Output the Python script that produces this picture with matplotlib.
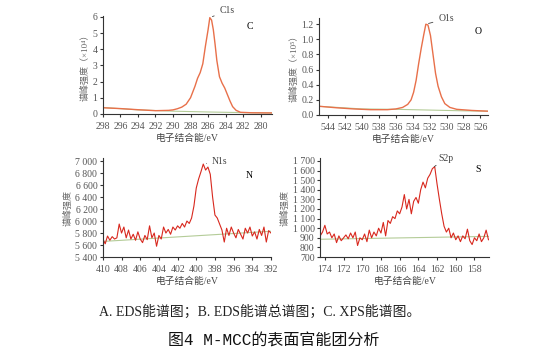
import matplotlib.pyplot as plt
from matplotlib.ticker import FuncFormatter
import numpy as np

plt.rcParams['font.family'] = ['Liberation Serif', 'Noto Sans CJK SC']

# C 1s
c_x = [298, 296, 294, 292, 290.5, 290, 289.5, 289, 288.5, 288, 287.5, 287.2, 286.9, 286.6,
       286.3, 286.0, 285.8, 285.6, 285.4, 285.2, 285.0, 284.7, 284.4, 284.1, 283.8, 283.5,
       283.2, 282.8, 282.3, 281, 278.7]
c_y = [0.38, 0.33, 0.26, 0.2, 0.22, 0.25, 0.32, 0.42, 0.6, 1.0, 1.7, 2.2, 2.55, 3.1,
       4.2, 5.2, 5.95, 5.8, 5.2, 4.3, 3.3, 2.3, 1.9, 1.6, 1.2, 0.8,
       0.45, 0.22, 0.1, 0.07, 0.06]
c_bx = [298, 294, 290, 286, 282, 278.7]
c_by = [0.4, 0.25, 0.17, 0.12, 0.08, 0.06]

# O 1s
o_x = [545.1, 543, 541, 539, 537, 536, 535.2, 534.6, 534.2, 533.9, 533.6, 533.3, 533.0,
       532.7, 532.45, 532.2, 531.9, 531.6, 531.3, 531.0, 530.6, 530.2, 529.6, 528.8, 527, 525.05]
o_y = [0.115, 0.095, 0.08, 0.07, 0.07, 0.08, 0.1, 0.14, 0.2, 0.3, 0.46, 0.68, 0.88,
       1.06, 1.2, 1.19, 1.05, 0.8, 0.55, 0.38, 0.24, 0.15, 0.1, 0.075, 0.06, 0.05]
o_bx = [545.1, 540, 536, 532, 528, 525.05]
o_by = [0.115, 0.08, 0.075, 0.065, 0.055, 0.05]

# N 1s (0.25 eV steps, 410 -> 392)
n_x = np.arange(410, 391.9, -0.25)
n_y = [5700, 5620, 5750, 5680, 5740, 5700, 5720, 5950, 5800, 5900, 5720, 5850, 5700,
       5780, 5680, 5820, 5700, 5640, 5760, 5690, 5920, 5720, 5800, 5580, 5760, 5700,
       5900, 5800, 5860, 5780, 5900, 5850, 5920, 5880, 5960, 5900, 6000, 5960, 6050,
       6250, 6550, 6700, 6820, 6950, 6850, 6900, 6780, 6400, 6100, 6050, 5950, 5850,
       5650, 5880, 5760, 5900, 5800, 5720, 5860, 5780, 5700, 5880, 5800, 5900, 5750,
       5820, 5700, 5860, 5760, 5900, 5650, 5840, 5800]
n_bx = [410, 392]
n_by = [5660, 5830]

# S 2p (0.25 eV steps, 174.5 -> 156.5)
s_x = np.arange(174.5, 156.4, -0.25)
s_y = [920, 960, 1030, 940, 960, 900, 940, 850, 920, 870, 900, 930, 890, 950, 900,
       960, 820, 900, 880, 940, 860, 980, 900, 960, 920, 1000, 950, 1060, 920, 1080,
       1050, 1120, 1100, 1180, 1150, 1220, 1350, 1200, 1300, 1150, 1280, 1320, 1260,
       1400, 1480, 1420, 1520, 1560, 1620, 1640, 1460, 1300, 1150, 1020, 960, 1000,
       900, 950, 880, 920, 860, 920, 890, 990, 870, 830, 900, 870, 940, 860, 900, 980, 880]
s_bx = [174.5, 156.4]
s_by = [885, 915]

RED = '#d8281e'
SALMON = '#e8704a'
GREEN = '#b4cc98'
GREY = '#444444'


def sep(v, pos):
    return f'{int(v):,}'.replace(',', ' ')


def style(ax, xlim, ylim, xt, yt, ylabel):
    ax.set_xlim(*xlim)
    ax.set_ylim(*ylim)
    ax.set_xticks(xt)
    ax.set_yticks(yt)
    for s in ['top', 'right']:
        ax.spines[s].set_visible(False)
    for s in ['left', 'bottom']:
        ax.spines[s].set_color('#333333')
        ax.spines[s].set_linewidth(0.8)
    ax.tick_params(labelsize=7, length=2.5, width=0.8, colors='#333333', labelcolor='#555555')
    ax.tick_params(axis='x', pad=3.5)
    ax.tick_params(axis='y', pad=1.5)
    ax.set_xlabel('电子结合能/eV', fontsize=7, color=GREY, labelpad=2)
    ax.set_ylabel(ylabel, fontsize=6.5, color='#666666', labelpad=2)


fig = plt.figure(figsize=(5.53, 3.56), dpi=100)

ax1 = fig.add_axes([0.186, 0.680, 0.306, 0.275])
ax1.plot(c_bx, c_by, color=GREEN, lw=0.8)
ax1.plot(c_x, c_y, color=SALMON, lw=1.0)
style(ax1, (298, 278.7), (0, 6.05), range(298, 279, -2), range(0, 7), '谱峰强度（×10⁴）')
ax1.annotate('C1s', xy=(285.8, 5.95), xytext=(7, 5), textcoords='offset points',
             fontsize=7, va='center', color=GREY,
             arrowprops=dict(arrowstyle='-', color=GREY, lw=0.6))
ax1.text(0.85, 0.87, 'C', transform=ax1.transAxes, fontsize=7)

ax2 = fig.add_axes([0.577, 0.677, 0.306, 0.272])
ax2.plot(o_bx, o_by, color=GREEN, lw=0.8)
ax2.plot(o_x, o_y, color=SALMON, lw=1.0)
style(ax2, (545.1, 525.05), (0, 1.28), range(544, 525, -2), np.arange(0, 1.3, 0.2), '谱峰强度（×10⁵）')
ax2.yaxis.set_major_formatter(FuncFormatter(lambda v, p: f'{v:.1f}'))
ax2.annotate('O1s', xy=(532.45, 1.2), xytext=(9, 4), textcoords='offset points',
             fontsize=7, va='center', color=GREY,
             arrowprops=dict(arrowstyle='-', color=GREY, lw=0.6))
ax2.text(0.92, 0.84, 'O', transform=ax2.transAxes, fontsize=7)

ax3 = fig.add_axes([0.186, 0.278, 0.304, 0.278])
ax3.plot(n_bx, n_by, color=GREEN, lw=0.8)
ax3.plot(n_x, n_y, color=RED, lw=0.8)
style(ax3, (410, 392), (5400, 7050), range(410, 391, -2), range(5400, 7001, 200), '谱峰强度')
ax3.yaxis.set_major_formatter(FuncFormatter(sep))
ax3.annotate('N1s', xy=(399.2, 6950), xytext=(6, 2), textcoords='offset points',
             fontsize=7, va='center', color=GREY,
             arrowprops=dict(arrowstyle='-', color=GREY, lw=0.6))
ax3.text(0.85, 0.8, 'N', transform=ax3.transAxes, fontsize=7)

ax4 = fig.add_axes([0.579, 0.278, 0.306, 0.278])
ax4.plot(s_bx, s_by, color=GREEN, lw=0.8)
ax4.plot(s_x, s_y, color=RED, lw=0.8)
style(ax4, (174.5, 156.4), (700, 1730), range(174, 157, -2), range(700, 1701, 100), '谱峰强度')
ax4.yaxis.set_major_formatter(FuncFormatter(sep))
ax4.annotate('S2p', xy=(162.3, 1640), xytext=(3, 3), textcoords='offset points',
             fontsize=7, va='bottom', color=GREY,
             arrowprops=dict(arrowstyle='-', color=GREY, lw=0.6))
ax4.text(0.92, 0.86, 'S', transform=ax4.transAxes, fontsize=7)

fig.text(0.47, 0.125, 'A. EDS能谱图；B. EDS能谱总谱图；C. XPS能谱图。', ha='center', va='center',
         fontsize=10, color='#222222')
fig.text(0.495, 0.042, '图4 M-MCC的表面官能团分析', ha='center', va='center',
         fontsize=11.5, color='#111111', family=['Liberation Mono', 'Noto Sans CJK SC'])

fig.savefig('out.png', dpi=100)
